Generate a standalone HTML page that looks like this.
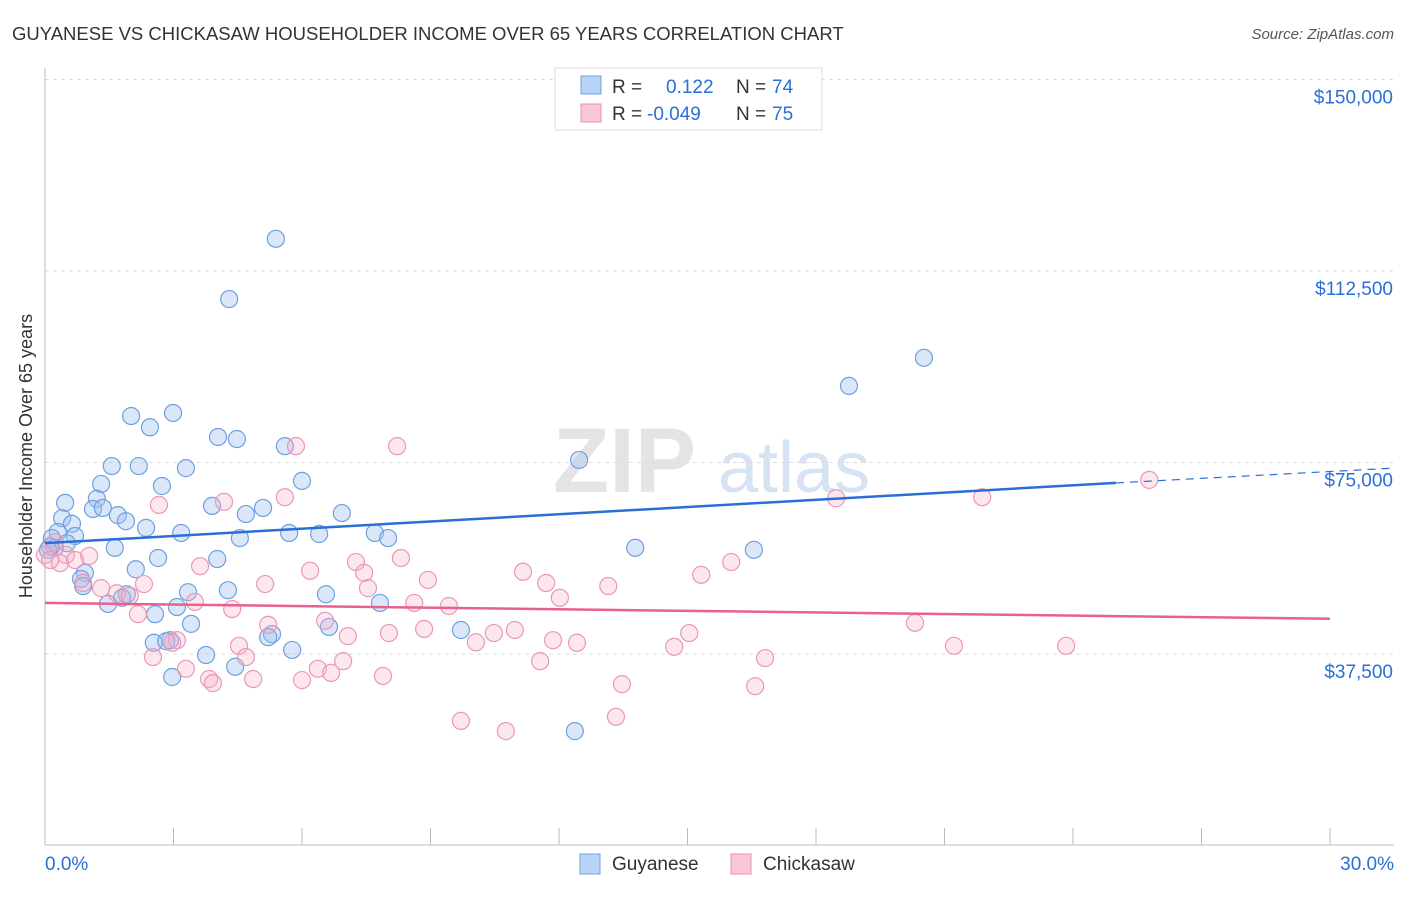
<!DOCTYPE html>
<html><head><meta charset="utf-8"><style>
body{margin:0;background:#fff;font-family:"Liberation Sans",sans-serif;}
svg text{font-family:"Liberation Sans",sans-serif;}
</style></head><body>
<svg id="chart" width="1406" height="892" xmlns="http://www.w3.org/2000/svg">
<text x="12" y="40" font-size="18.5" fill="#333">GUYANESE VS CHICKASAW HOUSEHOLDER INCOME OVER 65 YEARS CORRELATION CHART</text>
<text x="1394" y="39" font-size="15" fill="#555" font-style="italic" text-anchor="end">Source: ZipAtlas.com</text>
<text x="32" y="456" font-size="18" fill="#333" text-anchor="middle" transform="rotate(-90 32 456)">Householder Income Over 65 years</text>
<g><text x="553" y="492" font-size="92" fill="#e4e4e4" font-family="Liberation Serif" font-weight="bold">ZIP</text><text x="718" y="492" font-size="72" fill="#d6e3f3">atlas</text></g>
<g id="grid"></g><g id="axes"></g><g id="pts"></g><g id="lines"></g>
<g>
<rect x="555" y="68" width="267" height="62" fill="#fff" stroke="#ddd"/>
<rect x="581" y="76" width="20" height="18" fill="#b8d3f5" stroke="#6fa0e0"/>
<rect x="581" y="104" width="20" height="18" fill="#f9c6d6" stroke="#e890b0"/>
<text x="612" y="93" font-size="19" fill="#333">R =</text><text x="666" y="93" font-size="19" fill="#2a6fd6">0.122</text>
<text x="736" y="93" font-size="19" fill="#333">N =</text><text x="772" y="93" font-size="19" fill="#2a6fd6">74</text>
<text x="612" y="120" font-size="19" fill="#333">R =</text><text x="647" y="120" font-size="19" fill="#2a6fd6">-0.049</text>
<text x="736" y="120" font-size="19" fill="#333">N =</text><text x="772" y="120" font-size="19" fill="#2a6fd6">75</text>
</g>
<g>
<rect x="580" y="854" width="20" height="20" fill="#b8d3f5" stroke="#6fa0e0"/><text x="612" y="870" font-size="19" fill="#333">Guyanese</text>
<rect x="731" y="854" width="20" height="20" fill="#f9c6d6" stroke="#e890b0"/><text x="763" y="870" font-size="19" fill="#333">Chickasaw</text>
</g>
</svg>
<script>
const yTicks=[37.5,75,112.5,150];
const yTickLabels=["$37,500","$75,000","$112,500","$150,000"];
const xTicks=[0,3,6,9,12,15,18,21,24,27,30];
const blueX=[5.39,4.30,20.52,18.77,2.01,2.99,2.45,4.04,4.48,5.60,12.47,1.56,2.19,3.29,2.73,1.31,6.00,0.47,1.21,1.12,1.35,3.90,5.09,1.70,1.89,6.93,4.69,0.40,0.63,2.36,3.18,5.70,6.40,7.70,0.30,0.70,0.16,4.55,8.01,0.51,0.23,1.63,13.78,16.55,2.64,4.02,0.93,2.12,0.84,0.89,3.34,4.27,1.91,1.80,1.47,6.56,7.82,3.08,2.57,3.41,6.63,9.71,5.30,5.21,2.92,2.54,2.83,5.77,3.76,4.44,2.97,12.37,0.12,0.07];
const blueY=[118.8,107.0,95.5,90.0,84.1,84.7,81.9,80.0,79.6,78.2,75.5,74.3,74.3,73.9,70.4,70.8,71.4,67.1,67.9,65.9,66.1,66.5,66.1,64.7,63.5,65.1,64.9,64.1,63.0,62.2,61.2,61.2,61.0,61.2,61.4,60.6,60.2,60.2,60.2,59.2,58.3,58.3,58.3,57.9,56.3,56.1,53.4,54.1,52.2,50.8,49.6,50.0,49.2,48.5,47.3,49.2,47.5,46.7,45.3,43.4,42.8,42.2,41.4,40.8,40.2,39.7,40.0,38.3,37.3,35.0,33.0,22.4,58.5,57.9];
const pinkX=[25.78,21.88,18.47,8.22,5.86,2.66,4.18,5.60,0.23,0,0.49,1.03,3.62,7.26,8.31,16.02,7.45,11.16,0.89,2.31,1.31,5.14,8.94,11.70,13.15,15.32,1.68,1.98,7.54,12.02,3.50,8.62,9.43,2.17,4.37,6.19,6.54,5.21,20.31,3.08,2.97,7.07,8.03,8.85,10.48,10.97,15.04,11.86,12.42,4.53,10.06,14.69,21.22,23.84,2.52,4.69,6.96,16.81,11.56,3.29,6.37,6.68,3.83,4.86,6.00,7.89,3.92,13.47,16.58,9.71,13.33,10.76,0.70,0.35,0.12];
const pinkY=[71.6,68.2,68.0,78.2,78.2,66.7,67.3,68.2,59.4,56.9,56.9,56.7,54.7,55.5,56.3,55.5,53.4,53.6,51.4,51.2,50.4,51.2,52.0,51.4,50.8,53.0,49.4,48.9,50.4,48.5,47.7,47.5,46.9,45.3,46.3,53.8,44.0,43.2,43.6,40.2,39.7,41.0,41.6,42.4,41.6,42.2,41.6,40.2,39.7,39.1,39.8,38.9,39.1,39.1,36.9,36.9,36.1,36.7,36.1,34.6,34.6,33.8,32.6,32.6,32.4,33.2,31.8,31.6,31.2,24.4,25.2,22.4,55.9,55.3,55.9];
const blueTrend=[59.2,71.0,73.9]; // at x=0, x=25 (solid end), x=30 (dashed end)
const pinkTrend=[47.5,44.4];      // at x=0, x=30
const NS="http://www.w3.org/2000/svg";
const sx=v=>45+v/30*1285;
const sy=v=>654-(v-37.5)/37.5*191.5;
function mk(tag,attrs,parent){const e=document.createElementNS(NS,tag);for(const k in attrs)e.setAttribute(k,attrs[k]);document.getElementById(parent).appendChild(e);return e;}
yTicks.forEach((t,i)=>{
  const g=mk('line',{x1:45,x2:1394,y1:sy(t),y2:sy(t),stroke:'#ddd','stroke-dasharray':'4,4'},'grid');
  
  
  const l=mk('text',{x:1393,y:sy(t)+24,'font-size':19,fill:'#2a6fd6','text-anchor':'end'},'axes');
  l.textContent=yTickLabels[i];
  
  
});
const ax=mk('line',{x1:45,x2:45,y1:68,y2:845,stroke:'#bbb'},'axes');


const bx=mk('line',{x1:45,x2:1394,y1:845,y2:845,stroke:'#bbb'},'axes');


xTicks.forEach(t=>{
  const k=mk('line',{x1:sx(t),x2:sx(t),y1:828,y2:845,stroke:'#bbb'},'axes');
  
  
});
const x0=mk('text',{x:45,y:870,'font-size':19,fill:'#2a6fd6'},'axes');x0.textContent=xTicks[0].toFixed(1)+'%';


const x1=mk('text',{x:1394,y:870,'font-size':19,fill:'#2a6fd6','text-anchor':'end'},'axes');x1.textContent=xTicks[xTicks.length-1].toFixed(1)+'%';


blueX.forEach((x,i)=>{
  const c=mk('circle',{cx:sx(x),cy:sy(blueY[i]),r:8.5,fill:'rgba(160,195,240,0.4)',stroke:'#6fa0e0','stroke-width':1.2},'pts');
  
  
});
pinkX.forEach((x,i)=>{
  const c=mk('circle',{cx:sx(x),cy:sy(pinkY[i]),r:8.5,fill:'rgba(245,175,200,0.3)',stroke:'#eb97b5','stroke-width':1.2},'pts');
  
  
});
const b1=mk('line',{x1:sx(0),y1:sy(blueTrend[0]),x2:sx(25),y2:sy(blueTrend[1]),stroke:'#2a6fd6','stroke-width':2.5},'lines');


const b2=mk('line',{x1:sx(25),y1:sy(blueTrend[1]),x2:sx(30)+64,y2:sy(blueTrend[2]),stroke:'#2a6fd6','stroke-width':1.2,'stroke-dasharray':'8,6'},'lines');


const p1=mk('line',{x1:sx(0),y1:sy(pinkTrend[0]),x2:sx(30),y2:sy(pinkTrend[1]),stroke:'#e8608e','stroke-width':2.5},'lines');


</script>
</body></html>
